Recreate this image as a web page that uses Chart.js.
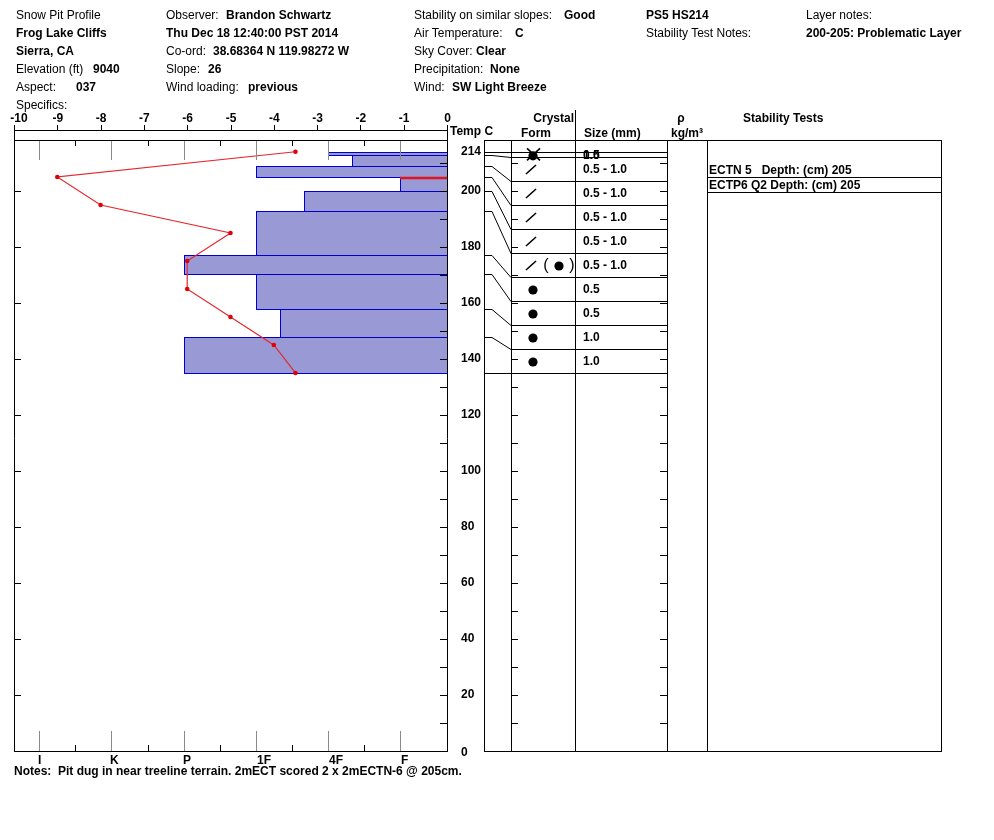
<!DOCTYPE html>
<html><head><meta charset="utf-8">
<script src="https://cdn.jsdelivr.net/npm/chart.js@4.4.1/dist/chart.umd.min.js"></script>
<style>
html,body{margin:0;padding:0;background:#fff;width:994px;height:840px;overflow:hidden;}
#wrap{position:relative;width:994px;height:840px;font-family:"Liberation Sans",Arial,Helvetica,sans-serif;font-size:12px;color:#000;}
canvas{position:absolute;left:0;top:0;}
.t{position:absolute;white-space:pre;line-height:14px;height:14px;z-index:2;}
.b{font-weight:bold;}
</style></head>
<body><div id="wrap"><canvas id="c" width="994" height="840"></canvas></div>
<script>
// ---------------- data ----------------
const layerTop      = [214, 213, 209, 205, 200, 193, 177, 170.5, 158, 148];
const layerBottom   = [213, 209, 205, 200, 193, 177, 170.5, 158, 148, 135];
// hand hardness index: I=1, K=2, P=3, 1F=4, 4F=5, F=6 (thirds for +/-)
const layerHardness = [5, 5.33, 4, 6, 4.67, 4, 3, 4, 4.33, 3];
const hardnessLabels = ['I', 'K', 'P', '1F', '4F', 'F'];
const grainForm = ['X●', '/', '/', '/', '/', '/(●)', '●', '●', '●', '●'];
const grainSize = [['1.0', '0.5'], ['0.5 - 1.0'], ['0.5 - 1.0'], ['0.5 - 1.0'], ['0.5 - 1.0'], ['0.5 - 1.0'], ['0.5'], ['0.5'], ['1.0'], ['1.0']];
const tempHeights = [214, 205, 195, 185, 175, 165, 155, 145, 135];
const tempValues  = [-3.5, -9, -8, -5, -6, -6, -5, -4, -3.5];
const tempTicks   = [-10, -9, -8, -7, -6, -5, -4, -3, -2, -1, 0];
const heightLabels = [0, 20, 40, 60, 80, 100, 120, 140, 160, 180, 200, 214];
const testCodes  = ['ECTN 5', 'ECTP6 Q2'];
const testDepths = [205, 205];
const problemLayer = [200, 205];
const notesText = 'Notes:  Pit dug in near treeline terrain. 2mECT scored 2 x 2mECTN-6 @ 205cm.';

const headerItems = [
 [16,14,'Snow Pit Profile',0],[16,32,'Frog Lake Cliffs',1],[16,50,'Sierra, CA',1],
 [16,68,'Elevation (ft)',0],[93,68,'9040',1],[16,86,'Aspect:',0],[76,86,'037',1],[16,104,'Specifics:',0],
 [166,14,'Observer:',0],[226,14,'Brandon Schwartz',1],[166,32,'Thu Dec 18 12:40:00 PST 2014',1],
 [166,50,'Co-ord:',0],[213,50,'38.68364 N 119.98272 W',1],[166,68,'Slope:',0],[208,68,'26',1],
 [166,86,'Wind loading:',0],[248,86,'previous',1],
 [414,14,'Stability on similar slopes:',0],[564,14,'Good',1],[414,32,'Air Temperature:',0],[515,32,'C',1],
 [414,50,'Sky Cover:',0],[476,50,'Clear',1],[414,68,'Precipitation:',0],[490,68,'None',1],
 [414,86,'Wind:',0],[452,86,'SW Light Breeze',1],
 [646,14,'PS5 HS214',1],[646,32,'Stability Test Notes:',0],[806,14,'Layer notes:',0],[806,32,'200-205: Problematic Layer',1],
 [14,770,notesText,1]
];

// ---------------- header text ----------------
const wrap = document.getElementById('wrap');
headerItems.forEach(([x,yc,txt,b])=>{
  const d = document.createElement('div');
  d.className = 't' + (b ? ' b' : '');
  d.style.left = x + 'px'; d.style.top = (yc - 6) + 'px';
  d.textContent = txt;
  wrap.appendChild(d);
});

// ---------------- drawing helpers ----------------
const FF = '"Liberation Sans", Arial, Helvetica, sans-serif';
const P = v => Math.round(v) + 0.5;
function seg(ctx, x1, y1, x2, y2, color, w){
  ctx.beginPath(); ctx.strokeStyle = color || '#000'; ctx.lineWidth = w || 1;
  ctx.moveTo(x1, y1); ctx.lineTo(x2, y2); ctx.stroke();
}
function txt(ctx, s, x, y, align, bold, size){
  ctx.font = (bold ? 'bold ' : '') + (size || 12) + 'px ' + FF;
  ctx.textAlign = align || 'left'; ctx.textBaseline = 'middle'; ctx.fillStyle = '#000';
  ctx.fillText(s, x, y + 1);
}
const COL = {hl: 484, form: 511, size: 575, rho: 667, stab: 707, right: 941};

function drawForm(ctx, f, x, yc){
  const dot = (cx, cy) => { ctx.beginPath(); ctx.fillStyle = '#000'; ctx.arc(cx, cy, 4.6, 0, Math.PI*2); ctx.fill(); };
  const slash = (cx, cy) => seg(ctx, cx-7, cy+5, cx+3, cy-4, '#000', 1.6);
  if (f === 'X●') {
    seg(ctx, x-6, yc-6, x+7, yc+6, '#000', 1.6); seg(ctx, x-6, yc+6, x+7, yc-6, '#000', 1.6);
    dot(x, yc+1.5);
  } else if (f === '/') { slash(x, yc); }
  else if (f === '●') { dot(x, yc+1); }
  else if (f === '/(●)') {
    slash(x, yc);
    txt(ctx, '(', x+13, yc, 'center', false, 16);
    dot(x+26, yc+1);
    txt(ctx, ')', x+39, yc, 'center', false, 16);
  }
}

const profilePlugin = {
  id: 'profile',
  beforeDatasetsDraw(chart){
    const {ctx, scales:{xh, y}} = chart;
    const right = Math.round(xh.getPixelForValue(xh.max));
    ctx.save();
    layerTop.forEach((t, i)=>{
      const x1 = Math.round(xh.getPixelForValue(layerHardness[i]));
      const y1 = Math.round(y.getPixelForValue(t));
      const y2 = Math.round(y.getPixelForValue(layerBottom[i]));
      ctx.fillStyle = '#9999d6';
      ctx.fillRect(x1, y1, right - x1, y2 - y1);
      ctx.strokeStyle = '#0000cc'; ctx.lineWidth = 1;
      ctx.strokeRect(x1 + 0.5, y1 + 0.5, right - x1, y2 - y1);
      if (layerBottom[i] === problemLayer[0] && t === problemLayer[1]) {
        seg(ctx, x1, y1 + 1, right, y1 + 1, '#e0141e', 2.5);
      }
    });
    ctx.restore();
  },
  afterDraw(chart){
    const {ctx, chartArea:a, scales:{xt, xh, y}} = chart;
    const L = a.left, R = a.right, T = a.top, B = a.bottom;
    ctx.save();
    // hardness grid marks
    hardnessLabels.forEach((lab, i)=>{
      const x = P(xh.getPixelForValue(i + 1));
      seg(ctx, x, T, x, T + 20, '#8a8a8a');
      seg(ctx, x, B - 20, x, B, '#8a8a8a');
      txt(ctx, lab, Math.round(xh.getPixelForValue(i + 1)) - 1 + (i >= 3 ? 2 : 0), B + 9, 'left', true);
    });
    for (let i = 1; i < hardnessLabels.length; i++) {
      const x = P(xh.getPixelForValue(i + 0.5));
      seg(ctx, x, T, x, T + 6); seg(ctx, x, B - 6, x, B);
    }
    // frame
    seg(ctx, P(L), T - 15, P(L), B + 1);
    seg(ctx, P(R), T - 15, P(R), B + 1);
    seg(ctx, L, P(T - 10), R + 1, P(T - 10));
    seg(ctx, L, P(T), R + 1, P(T));
    seg(ctx, L, P(B), R + 1, P(B));
    // temperature axis
    tempTicks.forEach(t=>{
      const xp = xt.getPixelForValue(t);
      seg(ctx, P(xp), T - 15, P(xp), T - 10);
      const lx = (t === tempTicks[0]) ? xp + 5 : xp + 0.5;
      txt(ctx, String(t), lx, T - 22, 'center', true);
    });
    txt(ctx, 'Temp C', R + 3, T - 9, 'left', true);
    // height ticks
    for (let h = 0; h <= 210; h += 10) {
      const yy = P(y.getPixelForValue(h));
      seg(ctx, R - 7, yy, R, yy);
      if (h % 20 === 0) seg(ctx, L, yy, L + 7, yy);
      seg(ctx, COL.form, yy, COL.form + 7, yy);
      seg(ctx, COL.rho - 7, yy, COL.rho, yy);
    }
    heightLabels.forEach(h=>{
      txt(ctx, String(h), 461, y.getPixelForValue(h) + (h === 0 ? 1 : -1), 'left', true);
    });
    // table headers
    txt(ctx, 'Crystal', 574, 118, 'right', true);
    txt(ctx, 'Form', 521, 133, 'left', true);
    txt(ctx, 'Size (mm)', 584, 133, 'left', true);
    txt(ctx, 'ρ', 681, 118, 'center', true);
    txt(ctx, 'kg/m³', 671, 133, 'left', true);
    txt(ctx, 'Stability Tests', 743, 118, 'left', true);
    // table frame
    seg(ctx, P(COL.hl), T, P(COL.hl), B + 1);
    seg(ctx, P(COL.form), T, P(COL.form), B + 1);
    seg(ctx, P(COL.size), 110, P(COL.size), B + 1);
    seg(ctx, P(COL.rho), T, P(COL.rho), B + 1);
    seg(ctx, P(COL.stab), T, P(COL.stab), B + 1);
    seg(ctx, P(COL.right), T, P(COL.right), B + 1);
    seg(ctx, COL.hl, P(T), COL.right + 1, P(T));
    seg(ctx, COL.hl, P(B), COL.right + 1, P(B));
    // rows & connectors
    const n = layerTop.length, rowH = 24;
    const bounds = layerTop.concat([layerBottom[n - 1]]);
    const yTop = y.getPixelForValue(layerTop[0]);
    const yBot = y.getPixelForValue(layerBottom[n - 1]);
    const rowB = bounds.map((b, k) => Math.max(yTop, yBot - rowH * (n - k)));
    bounds.forEach((b, k)=>{
      const yb = P(y.getPixelForValue(b)), yr = P(rowB[k]);
      ctx.beginPath(); ctx.strokeStyle = '#000'; ctx.lineWidth = 1;
      ctx.moveTo(COL.hl, yb); ctx.lineTo(COL.hl + 8, yb); ctx.lineTo(COL.form, yr); ctx.stroke();
      const x0 = (k === 0 || k === n) ? COL.hl : COL.form;
      seg(ctx, x0, yr, COL.rho, yr);
    });
    for (let k = 0; k < n; k++) {
      const yc = (rowB[k] + rowB[k + 1]) / 2;
      drawForm(ctx, grainForm[k], 533, yc);
      grainSize[k].forEach(s => txt(ctx, s, 583, yc, 'left', true));
    }
    // stability tests
    let lastY = null;
    testCodes.forEach((c, i)=>{
      let ly = Math.round(y.getPixelForValue(testDepths[i]));
      if (lastY !== null && ly <= lastY + 14) ly = lastY + 15;
      seg(ctx, COL.stab, P(ly), COL.right, P(ly));
      txt(ctx, c.padEnd(9, ' ') + 'Depth: (cm) ' + testDepths[i], COL.stab + 2, ly - 7, 'left', true);
      lastY = ly;
    });
    ctx.restore();
  }
};

Chart.defaults.font.family = FF;
new Chart(document.getElementById('c').getContext('2d'), {
  type: 'scatter',
  data: {
    datasets: [{
      label: 'Temperature (C)',
      data: tempHeights.map((h, i) => ({x: tempValues[i], y: h})),
      xAxisID: 'xt', yAxisID: 'y',
      showLine: true,
      borderColor: 'rgb(228,40,45)', borderWidth: 1.2,
      pointRadius: 2.3, pointBackgroundColor: 'rgb(225,0,10)', pointBorderWidth: 0,
      clip: false
    }]
  },
  options: {
    responsive: false, animation: false,
    layout: {padding: {left: 14, right: 547, top: 140, bottom: 89}},
    plugins: {legend: {display: false}, tooltip: {enabled: false}},
    scales: {
      xt: {type: 'linear', axis: 'x', position: 'top', min: -10, max: 0, display: false},
      xh: {type: 'linear', axis: 'x', position: 'bottom', min: 0.65, max: 6.65, display: false},
      y:  {type: 'linear', position: 'left', min: 0, max: 218.2, display: false}
    }
  },
  plugins: [profilePlugin]
});
</script>
</body></html>
